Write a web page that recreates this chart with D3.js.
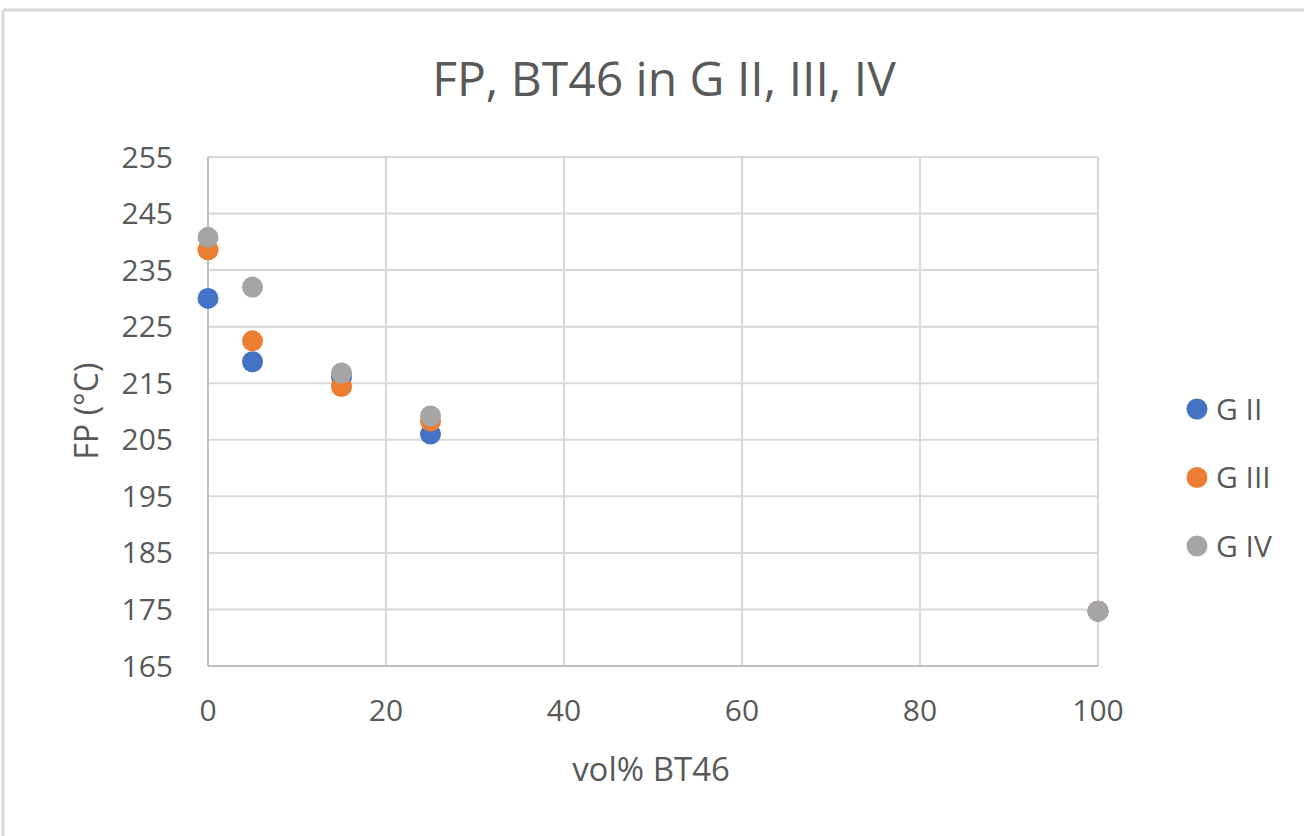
<!DOCTYPE html>
<html>
<head>
<meta charset="utf-8">
<script src="https://cdn.jsdelivr.net/npm/d3@7"></script>
<style>
  body { margin: 0; background: #fff; }
  svg text { font-family: "Open Sans", "Noto Sans", sans-serif; fill: #595959; }
</style>
</head>
<body>
<svg id="chart" width="1304" height="836"></svg>
<script>
// data
const xValues = [0, 5, 15, 25, 100];
const gII  = [230, 218.8, 216.1, 206, 174.7];
const gIII = [238.6, 222.5, 214.4, 208.3, 174.7];
const gIV  = [240.8, 232, 216.8, 209.2, 174.7];
const seriesNames = ["G II", "G III", "G IV"];
const seriesColors = ["#4472C4", "#ED7D31", "#A5A5A5"];
const xTicks = [0, 20, 40, 60, 80, 100];
const yTicks = [165, 175, 185, 195, 205, 215, 225, 235, 245, 255];

const svg = d3.select("#chart");

// outer frame (top + left edge only, like the screenshot)
svg.append("line").attr("x1", 3).attr("x2", 1304).attr("y1", 10).attr("y2", 10)
  .attr("stroke", "#d9d9d9").attr("stroke-width", 3);
svg.append("line").attr("x1", 3).attr("x2", 3).attr("y1", 10).attr("y2", 836)
  .attr("stroke", "#d9d9d9").attr("stroke-width", 3);

const plotL = 208, plotR = 1098, plotT = 157, plotB = 666;

const x = d3.scaleLinear().domain([0, 100]).range([plotL, plotR]);
const y = d3.scaleLinear().domain([165, 255]).range([plotB, plotT]);

// grid
const grid = svg.append("g");
grid.selectAll(".hg").data(yTicks).enter().append("line")
  .attr("x1", plotL).attr("x2", plotR)
  .attr("y1", d => y(d)).attr("y2", d => y(d))
  .attr("stroke", "#d9d9d9").attr("stroke-width", 2);
grid.selectAll(".vg").data(xTicks).enter().append("line")
  .attr("x1", d => x(d)).attr("x2", d => x(d))
  .attr("y1", plotT).attr("y2", plotB)
  .attr("stroke", "#d9d9d9").attr("stroke-width", 2);

// axis lines
svg.append("line").attr("x1", plotL).attr("x2", plotR).attr("y1", plotB).attr("y2", plotB)
  .attr("stroke", "#bfbfbf").attr("stroke-width", 2);
svg.append("line").attr("x1", plotL).attr("x2", plotL).attr("y1", plotT).attr("y2", plotB)
  .attr("stroke", "#bfbfbf").attr("stroke-width", 2);

// tick labels
svg.selectAll(".yt").data(yTicks).enter().append("text")
  .attr("x", 173).attr("y", d => y(d)).attr("dy", "0.35em")
  .attr("text-anchor", "end").style("font-size", "30px")
  .text(d => d);
svg.selectAll(".xt").data(xTicks).enter().append("text")
  .attr("x", d => x(d)).attr("y", 710).attr("dy", "0.35em")
  .attr("text-anchor", "middle").style("font-size", "30px")
  .text(d => d);

// titles
svg.append("text").attr("x", 664).attr("y", 79).attr("dy", "0.35em")
  .attr("text-anchor", "middle").style("font-size", "48px")
  .text("FP, BT46 in G II, III, IV");
svg.append("text").attr("x", 651).attr("y", 769).attr("dy", "0.35em")
  .attr("text-anchor", "middle").style("font-size", "33px")
  .text("vol% BT46");
svg.append("text").attr("transform", "translate(87,411) rotate(-90)").attr("dy", "0.35em")
  .attr("text-anchor", "middle").style("font-size", "32px")
  .text("FP (°C)");

// points
const allSeries = [gII, gIII, gIV];
allSeries.forEach((vals, i) => {
  svg.append("g").selectAll("circle").data(vals).enter().append("circle")
    .attr("cx", (d, j) => x(xValues[j]))
    .attr("cy", d => y(d))
    .attr("r", 10.5)
    .attr("fill", seriesColors[i]);
});

// legend
const legend = svg.append("g");
seriesNames.forEach((name, i) => {
  const ly = 409 + i * 68.5;
  legend.append("circle").attr("cx", 1197).attr("cy", ly).attr("r", 10.5).attr("fill", seriesColors[i]);
  legend.append("text").attr("x", 1216).attr("y", ly).attr("dy", "0.35em")
    .style("font-size", "30px").text(name);
});
</script>
</body>
</html>
